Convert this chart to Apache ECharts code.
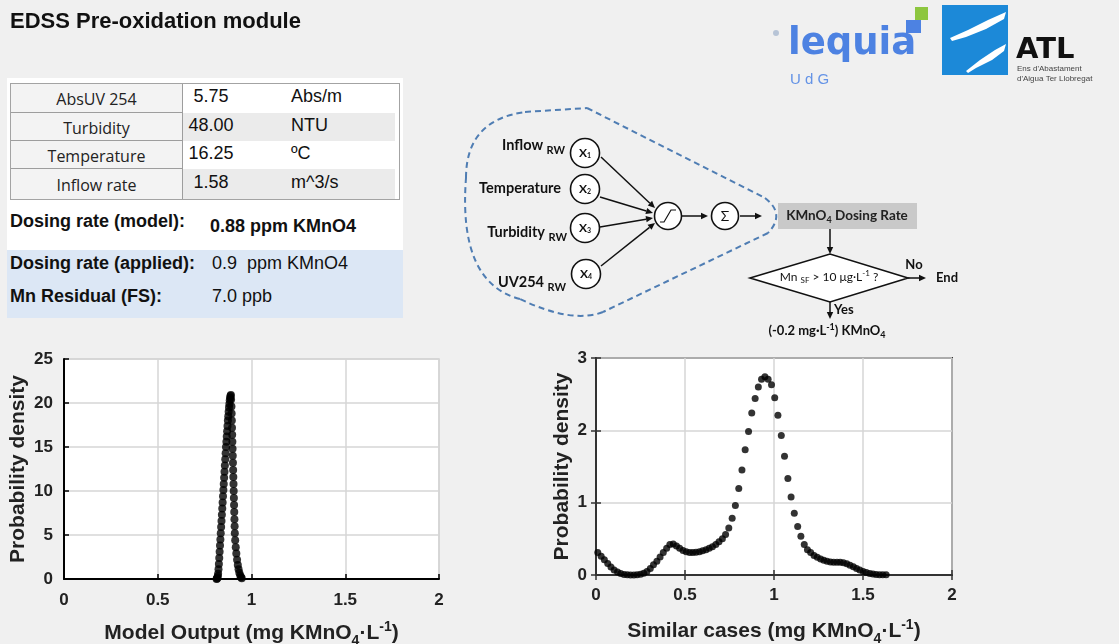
<!DOCTYPE html>
<html>
<head>
<meta charset="utf-8">
<script src="https://cdn.jsdelivr.net/npm/echarts@6/dist/echarts.min.js"></script>
<style>
  html, body { margin: 0; padding: 0; }
  body { background: #f0f0f0; width: 1119px; height: 644px; overflow: hidden; position: relative; font-family: 'Liberation Sans', Arial, sans-serif; color: #111; }
  #chart { position: absolute; left: 0; top: 0; width: 1119px; height: 644px; }
  .abs { position: absolute; white-space: pre; }
  #whitePanel { position: absolute; left: 7px; top: 78px; width: 396px; height: 172px; background: #fff; }
  #bluePanel { position: absolute; left: 7px; top: 250px; width: 396px; height: 68px; background: #dce7f5; }
  #tbl { position: absolute; left: 10px; top: 83px; width: 390px; height: 117px; border: 1px solid #a3a3a3; box-sizing: border-box; background: #fff; }
  .lab { position: absolute; left: 0; width: 172px; box-sizing: border-box; border-right: 1px solid #9d9d9d; border-bottom: 1px solid #9d9d9d; background: #f3f3f3; text-align: center; font: 16px 'Open Sans', sans-serif; color: #222; }
  .vbg { position: absolute; left: 172px; right: 4px; }
  .val { position: absolute; left: 172px; width: 56px; text-align: center; font: 18px 'Liberation Sans', Arial, sans-serif; color: #111; }
  .unit { position: absolute; left: 280px; font: 18px 'Liberation Sans', Arial, sans-serif; color: #111; }
  .big { font: bold 18px 'Liberation Sans', Arial, sans-serif; line-height: 22px; height: 22px; }
  .norm { font: 18px 'Liberation Sans', Arial, sans-serif; line-height: 22px; height: 22px; }
</style>
</head>
<body>
<div id="whitePanel"></div>
<div id="bluePanel"></div>
<div id="tbl"></div>
<div class="abs big" style="left:10px;top:210px;">Dosing rate (model):</div>
<div class="abs big" style="left:210px;top:215px;" id="modelDose"></div>
<div class="abs big" style="left:10px;top:252px;">Dosing rate (applied):</div>
<div class="abs norm" style="left:212px;top:252px;" id="appliedDose"></div>
<div class="abs big" style="left:10px;top:285px;">Mn Residual (FS):</div>
<div class="abs norm" style="left:212px;top:285px;" id="mnResidual"></div>
<div id="chart"></div>
<script>
// ---------------- data ----------------
const tableLabels = ['AbsUV 254', 'Turbidity', 'Temperature', 'Inflow rate'];
const tableValues = ['5.75', '48.00', '16.25', '1.58'];
const tableUnits  = ['Abs/m', 'NTU', 'ºC', 'm^3/s'];
const modelDoseText   = '0.88 ppm KMnO4';
const appliedDoseText = '0.9  ppm KMnO4';
const mnResidualText  = '7.0 ppb';

// Model output probability density (left plot)
const modelX = [0.814,0.816,0.818,0.820,0.822,0.824,0.826,0.828,0.830,0.832,0.834,0.836,0.838,0.840,0.842,0.844,0.846,0.848,0.850,0.852,
  0.854,0.856,0.858,0.860,0.862,0.864,0.866,0.868,0.870,0.872,0.874,0.876,0.878,0.880,0.882,0.884,0.886,0.888,0.890,
  0.891,0.893,0.894,0.895,0.896,0.897,0.898,0.899,0.900,0.901,0.902,0.903,0.904,0.905,0.906,0.907,0.908,0.909,0.910,0.911,
  0.913,0.916,0.919,0.923,0.927,0.931,0.935,0.940,0.944,0.948];
const modelY = [0,0.05,0.15,0.3,0.6,1.1,1.7,2.4,3.1,3.8,4.5,5.2,5.9,6.6,7.3,8.0,8.7,9.4,10.1,10.8,
  11.5,12.2,12.9,13.6,14.3,15.0,15.6,16.2,16.8,17.4,18.0,18.5,19.0,19.5,19.9,20.3,20.6,20.8,20.9,
  20.4,19.6,18.8,18.0,17.2,16.4,15.6,14.8,14.0,13.2,12.4,11.6,10.8,10.0,9.2,8.4,7.6,6.8,6.0,5.2,
  4.4,3.6,2.9,2.2,1.6,1.1,0.7,0.4,0.2,0.08];

// Similar cases probability density (right plot)
const similarX = [-0.026,-0.008,0.010,0.029,0.047,0.066,0.084,0.102,0.121,0.139,
  0.158,0.176,0.194,0.213,0.231,0.250,0.268,0.286,0.305,0.323,
  0.342,0.360,0.378,0.397,0.415,0.434,0.452,0.470,0.489,0.507,
  0.526,0.544,0.562,0.581,0.599,0.618,0.636,0.654,0.673,0.691,
  0.710,0.728,0.746,0.765,0.783,0.802,0.820,0.838,0.857,0.875,
  0.894,0.912,0.930,0.949,0.967,0.986,1.004,1.022,1.041,1.059,
  1.078,1.096,1.114,1.133,1.151,1.170,1.188,1.206,1.225,1.243,
  1.262,1.280,1.298,1.317,1.335,1.354,1.372,1.390,1.409,1.427,
  1.446,1.464,1.482,1.501,1.519,1.538,1.556,1.574,1.593,1.611,
  1.630];
const similarY = [0.37,0.34,0.31,0.26,0.21,0.16,0.11,0.07,0.04,0.02,
  0.008,0.003,0.001,0.001,0.003,0.01,0.025,0.05,0.09,0.14,
  0.19,0.25,0.31,0.37,0.42,0.43,0.40,0.37,0.34,0.32,
  0.31,0.31,0.315,0.32,0.335,0.35,0.37,0.39,0.42,0.46,
  0.50,0.56,0.65,0.785,0.96,1.195,1.45,1.73,1.985,2.24,
  2.44,2.60,2.705,2.74,2.705,2.63,2.45,2.21,1.93,1.64,
  1.335,1.08,0.855,0.67,0.535,0.42,0.35,0.31,0.27,0.245,
  0.22,0.205,0.19,0.18,0.175,0.175,0.175,0.17,0.155,0.135,
  0.115,0.09,0.07,0.05,0.035,0.022,0.013,0.008,0.005,0.003,
  0.002];

// ---------------- HTML table ----------------
(function buildTable() {
  const tbl = document.getElementById('tbl');
  const bounds = [0, 29, 57, 85, 115];
  for (let i = 0; i < tableLabels.length; i++) {
    const top = bounds[i], h = bounds[i + 1] - bounds[i];
    const bg = document.createElement('div');
    bg.className = 'vbg';
    bg.style.top = top + 'px'; bg.style.height = h + 'px';
    bg.style.background = (i % 2 === 1) ? '#ebebeb' : '#ffffff';
    tbl.appendChild(bg);
    const lab = document.createElement('div');
    lab.className = 'lab';
    lab.style.top = top + 'px'; lab.style.height = h + 'px'; lab.style.lineHeight = (h + 2) + 'px';
    if (i === tableLabels.length - 1) lab.style.borderBottom = 'none';
    lab.textContent = tableLabels[i];
    tbl.appendChild(lab);
    const v = document.createElement('div');
    v.className = 'val';
    v.style.top = (top - 2) + 'px'; v.style.lineHeight = h + 'px';
    v.textContent = tableValues[i];
    tbl.appendChild(v);
    const u = document.createElement('div');
    u.className = 'unit';
    u.style.top = (top - 2) + 'px'; u.style.lineHeight = h + 'px';
    u.textContent = tableUnits[i];
    tbl.appendChild(u);
  }
  document.getElementById('modelDose').textContent = modelDoseText;
  document.getElementById('appliedDose').textContent = appliedDoseText;
  document.getElementById('mnResidual').textContent = mnResidualText;
})();

// ---------------- ECharts ----------------
const chart = echarts.init(document.getElementById('chart'), null, { renderer: 'canvas' });
const FONT = 'Liberation Sans, Arial, sans-serif';
const DFONT = 'Lato, Open Sans, sans-serif';

const nameRich = {
  sub: { fontSize: 14, fontWeight: 'bold', fontFamily: FONT, color: '#222', padding: [16, 0, 0, 0] },
  sup: { fontSize: 14, fontWeight: 'bold', fontFamily: FONT, color: '#222', padding: [0, 0, 11, 0] }
};
function axisCommon(lineColor) {
  return {
    type: 'value',
    axisLine: { show: true, onZero: false, lineStyle: { color: lineColor, width: 2 } },
    axisTick: { show: true, inside: true, length: 5, lineStyle: { color: lineColor, width: 1.5 } },
    axisLabel: { fontSize: 17, fontWeight: 'bold', color: '#222', fontFamily: FONT },
    splitLine: { show: true, lineStyle: { color: '#d6d6d6', width: 1.5 } },
    nameLocation: 'middle',
    nameTextStyle: { fontSize: 21, fontWeight: 'bold', color: '#222', fontFamily: FONT, rich: nameRich }
  };
}

// diagram helpers
function arrow(x1, y1, x2, y2) {
  const a = Math.atan2(y2 - y1, x2 - x1), L = 7, W = 3.2;
  const bx = x2 - L * Math.cos(a), by = y2 - L * Math.sin(a);
  return [
    { type: 'line', silent: true, shape: { x1: x1, y1: y1, x2: bx, y2: by }, style: { stroke: '#111', lineWidth: 1.5 } },
    { type: 'polygon', silent: true, shape: { points: [[x2, y2], [bx + W * Math.sin(a), by - W * Math.cos(a)], [bx - W * Math.sin(a), by + W * Math.cos(a)]] }, style: { fill: '#111' } }
  ];
}
function circ(cx, cy, r) {
  return { type: 'circle', silent: true, shape: { cx: cx, cy: cy, r: r }, style: { fill: '#fff', stroke: '#111', lineWidth: 1.6 } };
}
const dRich = {
  b: { fontSize: 14.5, fontWeight: 'bold', fontFamily: DFONT, fill: '#111' },
  s: { fontSize: 11, fontWeight: 'bold', fontFamily: DFONT, fill: '#111', padding: [10, 0, 0, 0] },
  bb: { fontSize: 13.5, fontWeight: 'bold', fontFamily: DFONT, fill: '#222' },
  bs: { fontSize: 9, fontWeight: 'bold', fontFamily: DFONT, fill: '#222', padding: [8, 0, 0, 0] },
  x: { fontSize: 12, fontWeight: 'bold', fontFamily: DFONT, fill: '#111' },
  xs: { fontSize: 7, fontWeight: 'bold', fontFamily: DFONT, fill: '#111', padding: [6, 0, 0, 0] },
  n: { fontSize: 14, fontWeight: 'normal', fontFamily: DFONT, fill: '#111' },
  m: { fontSize: 12, fontWeight: 'normal', fontFamily: DFONT, fill: '#111' },
  ms: { fontSize: 8, fontWeight: 'normal', fontFamily: DFONT, fill: '#111', padding: [7, 0, 0, 0] },
  mp: { fontSize: 8, fontWeight: 'normal', fontFamily: DFONT, fill: '#111', padding: [0, 0, 7, 0] },
  c: { fontSize: 13, fontWeight: 'bold', fontFamily: DFONT, fill: '#111' },
  cs: { fontSize: 9, fontWeight: 'bold', fontFamily: DFONT, fill: '#111', padding: [8, 0, 0, 0] },
  cp: { fontSize: 9, fontWeight: 'bold', fontFamily: DFONT, fill: '#111', padding: [0, 0, 8, 0] }
};
function txt(x, y, text, align) {
  return { type: 'text', silent: true, x: x, y: y, style: { text: text, align: align || 'left', verticalAlign: 'middle', rich: dRich } };
}
const dash = { stroke: '#4f7db3', lineWidth: 2, lineDash: [6, 4], fill: null };

const graphics = [
  // title
  { type: 'text', silent: true, x: 10, y: 22, style: { text: 'EDSS Pre-oxidation module', font: 'bold 22px ' + FONT, fill: '#111', verticalAlign: 'middle' } },
  // lequia logo
  { type: 'text', silent: true, x: 788, y: 44, style: { text: 'lequia', font: 'bold 37px DejaVu Sans', fill: '#4d82e2', verticalAlign: 'middle' } },
  { type: 'rect', silent: true, shape: { x: 906, y: 20, width: 15, height: 13 }, style: { fill: '#4d82e2' } },
  { type: 'rect', silent: true, shape: { x: 915, y: 7, width: 13, height: 13 }, style: { fill: '#8dc63f' } },
  { type: 'text', silent: true, x: 790, y: 80, style: { text: 'U d G', font: '15px Liberation Sans', fill: '#6493e6', verticalAlign: 'middle' } },
  { type: 'circle', silent: true, shape: { cx: 776, cy: 33, r: 3 }, style: { fill: '#b7c4d6' } },
  // ATL logo
  { type: 'rect', silent: true, shape: { x: 942, y: 5, width: 66, height: 70 }, style: { fill: '#1c89d8' } },
  { type: 'polygon', silent: true, shape: { points: [[950, 38], [968, 30], [988, 20], [1006, 12], [1004, 19], [986, 29], [966, 37], [952, 41]] }, style: { fill: '#fff' } },
  { type: 'polygon', silent: true, shape: { points: [[966, 71], [980, 60], [995, 50], [1006, 44], [1004, 51], [992, 60], [976, 68], [968, 73]] }, style: { fill: '#fff' } },
  { type: 'text', silent: true, x: 1016, y: 50, style: { text: 'ATL', font: 'bold 29px DejaVu Sans', fill: '#111', verticalAlign: 'middle' } },
  { type: 'text', silent: true, x: 1017, y: 69, style: { text: "Ens d'Abastament", font: '8px Liberation Sans', fill: '#444', verticalAlign: 'middle' } },
  { type: 'text', silent: true, x: 1017, y: 79, style: { text: "d'Aigua Ter Llobregat", font: '8px Liberation Sans', fill: '#444', verticalAlign: 'middle' } },
  // dashed blob
  { type: 'bezierCurve', silent: true, shape: { x1: 466, y1: 178, x2: 525, y2: 112, cpx1: 466, cpy1: 120 }, style: dash },
  { type: 'line', silent: true, shape: { x1: 525, y1: 112, x2: 587, y2: 108 }, style: dash },
  { type: 'line', silent: true, shape: { x1: 587, y1: 108, x2: 765, y2: 198 }, style: dash },
  { type: 'bezierCurve', silent: true, shape: { x1: 765, y1: 198, x2: 768, y2: 233, cpx1: 786, cpy1: 214 }, style: dash },
  { type: 'line', silent: true, shape: { x1: 768, y1: 233, x2: 603, y2: 312 }, style: dash },
  { type: 'bezierCurve', silent: true, shape: { x1: 603, y1: 312, x2: 520, y2: 299, cpx1: 572, cpy1: 324 }, style: dash },
  { type: 'bezierCurve', silent: true, shape: { x1: 520, y1: 299, x2: 466, y2: 178, cpx1: 458, cpy1: 283 }, style: dash },
  // input labels
  txt(565, 145, '{b|Inflow }{s|RW}', 'right'),
  txt(561, 188, '{b|Temperature}', 'right'),
  txt(567, 232, '{b|Turbidity }{s|RW}', 'right'),
  txt(566, 282, '{b|UV254 }{s|RW}', 'right'),
  // input arrows
  ...arrow(601, 157, 655, 208),
  ...arrow(600, 197, 653, 213),
  ...arrow(600, 227, 653, 218),
  ...arrow(601, 266, 655, 223),
  // input nodes
  circ(585, 153, 14.5), circ(585, 189, 14.5), circ(585, 228, 14.5), circ(586, 274, 14.5),
  txt(585, 153, '{x|X}{xs|1}', 'center'),
  txt(585, 189, '{x|X}{xs|2}', 'center'),
  txt(585, 228, '{x|X}{xs|3}', 'center'),
  txt(586, 274, '{x|X}{xs|4}', 'center'),
  // sigmoid & sum
  circ(668, 216, 13.5),
  { type: 'polyline', silent: true, shape: { points: [[660, 222], [664, 222], [671, 210], [676, 210]] }, style: { stroke: '#111', lineWidth: 1.2, fill: null } },
  ...arrow(682, 216, 708, 216),
  circ(725, 216, 13.5),
  txt(725, 216, '{n|Σ}', 'center'),
  ...arrow(740, 216, 762, 216),
  // dosing rate box
  { type: 'rect', silent: true, shape: { x: 778, y: 203, width: 139, height: 26 }, style: { fill: '#c9c9c9' } },
  txt(847, 216, '{bb|KMnO}{bs|4}{bb| Dosing Rate}', 'center'),
  ...arrow(830, 229, 830, 254),
  // decision diamond
  { type: 'polygon', silent: true, shape: { points: [[750, 278], [830, 254], [908, 278], [830, 302]] }, style: { fill: '#fff', stroke: '#111', lineWidth: 1.6 } },
  txt(829, 277, '{m|Mn }{ms|SF}{m| > 10 μg·L}{mp|-1}{m| ?}', 'center'),
  ...arrow(908, 278, 926, 278),
  txt(914, 265, '{c|No}', 'center'),
  txt(936, 278, '{c|End}', 'left'),
  ...arrow(830, 302, 830, 319),
  txt(834, 310, '{c|Yes}', 'left'),
  txt(827, 331, '{c|(-0.2 mg·L}{cp|-1}{c|) KMnO}{cs|4}', 'center')
];

const option = {
  animation: false,
  backgroundColor: 'transparent',
  graphic: { elements: graphics },
  grid: [
    { left: 64, top: 359, width: 375, height: 220, show: true, backgroundColor: '#ffffff', borderColor: '#cfcfcf', borderWidth: 1.5, containLabel: false, outerBoundsMode: 'none' },
    { left: 596, top: 358, width: 356, height: 217, show: true, backgroundColor: '#ffffff', borderColor: '#333333', borderWidth: 2, containLabel: false, outerBoundsMode: 'none' }
  ],
  xAxis: [
    Object.assign(axisCommon('#000'), { gridIndex: 0, min: 0, max: 2, interval: 0.5, position: 'bottom',
      name: 'Model Output (mg KMnO{sub|4}·L{sup|-1})', nameGap: 39,
      axisLabel: Object.assign(axisCommon('#000').axisLabel, { margin: 13 }) }),
    Object.assign(axisCommon('#333'), { gridIndex: 1, min: 0, max: 2, interval: 0.5, position: 'bottom',
      name: 'Similar cases (mg KMnO{sub|4}·L{sup|-1})', nameGap: 41,
      axisLabel: Object.assign(axisCommon('#333').axisLabel, { margin: 12 }) }),
    { type: 'value', gridIndex: 1, min: 0, max: 2, interval: 0.5, position: 'top',
      axisLine: { show: false }, axisLabel: { show: false }, splitLine: { show: false },
      axisTick: { show: true, inside: true, length: 5, lineStyle: { color: '#333', width: 1.5 } } }
  ],
  yAxis: [
    Object.assign(axisCommon('#000'), { gridIndex: 0, min: 0, max: 25, interval: 5, position: 'left',
      name: 'Probability density', nameGap: 35,
      axisLabel: Object.assign(axisCommon('#000').axisLabel, { margin: 11 }) }),
    Object.assign(axisCommon('#333'), { gridIndex: 1, min: 0, max: 3, interval: 1, position: 'left',
      name: 'Probability density', nameGap: 23,
      axisLabel: Object.assign(axisCommon('#333').axisLabel, { margin: 9 }) }),
    { type: 'value', gridIndex: 1, min: 0, max: 3, interval: 1, position: 'right',
      axisLine: { show: false }, axisLabel: { show: false }, splitLine: { show: false },
      axisTick: { show: true, inside: true, length: 5, lineStyle: { color: '#333', width: 1.5 } } }
  ],
  series: [
    { type: 'scatter', xAxisIndex: 0, yAxisIndex: 0, symbol: 'circle', symbolSize: 8, clip: true, silent: true,
      itemStyle: { color: '#000' }, data: modelX.map((x, i) => [x, modelY[i]]) },
    { type: 'scatter', xAxisIndex: 1, yAxisIndex: 1, symbol: 'circle', symbolSize: 7, clip: true, silent: true,
      itemStyle: { color: '#000' }, data: similarX.map((x, i) => [x, similarY[i]]) }
  ]
};
chart.setOption(option);
</script>
</body>
</html>
